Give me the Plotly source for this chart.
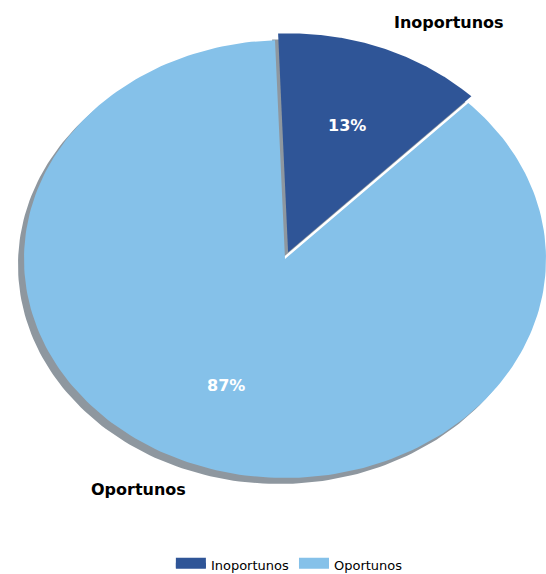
import numpy as np
import plotly.graph_objects as go

# Pie data
categories = ["Inoportunos", "Oportunos"]
values = [13, 87]
colors = ["#2F5597", "#85C1E9"]
pulls = [0.033, 0.0]

# Drawing geometry (pixel space; the axes are mapped 1:1 onto the page)
W, H = 546, 574
CX, CY = 285, 259          # centre of the elliptical pie
RX, RY = 261, 219          # horizontal / vertical radius
START = -2.2               # first slice starts this many degrees clockwise from 12 o'clock
SHADOW = (-6, 6)           # drop-shadow offset
SHADOW_COLOR = "#8E979F"
LABEL_FONT = "DejaVu Sans, sans-serif"

total = float(sum(values))


def point(theta_deg, r, ox, oy):
    t = np.radians(theta_deg)
    return ox + r * RX * np.sin(t), oy - r * RY * np.cos(t)


def wedge(a0, a1, ox, oy):
    th = np.linspace(a0, a1, 240)
    xs, ys = point(th, 1.0, ox, oy)
    return np.concatenate([[ox], xs, [ox]]), np.concatenate([[oy], ys, [oy]])


slices = []
a = START
for name, v, col, p in zip(categories, values, colors, pulls):
    span = v / total * 360.0
    mid = a + span / 2
    ox, oy = point(mid, p, CX, CY)
    slices.append(dict(name=name, v=v, col=col, a0=a, a1=a + span, mid=mid, ox=ox, oy=oy))
    a += span

fig = go.Figure()

# drop shadows underneath everything
for s in slices:
    xs, ys = wedge(s["a0"], s["a1"], s["ox"] + SHADOW[0], s["oy"] + SHADOW[1])
    fig.add_trace(go.Scatter(x=xs, y=ys, mode="lines", fill="toself",
                             fillcolor=SHADOW_COLOR, line=dict(width=0),
                             hoverinfo="skip", showlegend=False))

# slices: the large one first so the pulled-out wedge sits on top
for s in sorted(slices, key=lambda t: -t["v"]):
    xs, ys = wedge(s["a0"], s["a1"], s["ox"], s["oy"])
    fig.add_trace(go.Scatter(x=xs, y=ys, mode="lines", fill="toself",
                             fillcolor=s["col"], line=dict(width=0, color=s["col"]),
                             hoverinfo="skip", showlegend=False))

# legend swatches (filled band plus a thick line of the same colour)
for rank, s in enumerate(slices):
    fig.add_trace(go.Scatter(x=[None], y=[None], mode="lines", name=s["name"],
                             fill="toself", fillcolor=s["col"],
                             line=dict(width=12, color=s["col"]), legendrank=rank + 1))

# percentage labels inside the slices
for s in slices:
    lx, ly = point(s["mid"], 0.62, s["ox"], s["oy"])
    fig.add_annotation(x=lx, y=ly, text=f"<b>{s['v'] / total * 100:.0f}%</b>",
                       showarrow=False, font=dict(family=LABEL_FONT, size=16, color="white"))

# category labels outside the slices
for s in slices:
    lx, ly = point(s["mid"], 1.12, s["ox"], s["oy"])
    right = np.sin(np.radians(s["mid"])) >= 0
    top = np.cos(np.radians(s["mid"])) >= 0
    fig.add_annotation(x=lx, y=ly, text=f"<b>{s['name']}</b>", showarrow=False,
                       xanchor="left" if right else "right",
                       yanchor="bottom" if top else "top",
                       xshift=-2 if right else 9, yshift=-10 if top else 10,
                       font=dict(family=LABEL_FONT, size=16, color="black"))

fig.update_layout(
    width=W, height=H,
    margin=dict(l=0, r=0, t=0, b=0, autoexpand=False),
    paper_bgcolor="white", plot_bgcolor="white",
    xaxis=dict(range=[0, W], visible=False, fixedrange=True),
    yaxis=dict(range=[H, 0], visible=False, fixedrange=True),
    showlegend=True,
    legend=dict(orientation="h", x=0.53, xanchor="center", y=0.016, yanchor="middle",
                font=dict(family=LABEL_FONT, size=13, color="black"),
                bgcolor="rgba(0,0,0,0)"),
)

fig.write_html("out.html")
